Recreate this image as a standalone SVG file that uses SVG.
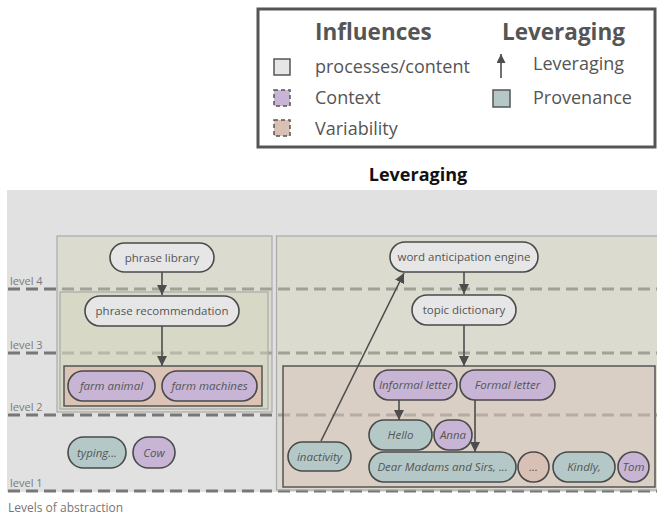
<svg xmlns="http://www.w3.org/2000/svg" width="657" height="517" viewBox="0 0 657 517">
<defs>
<marker id="ah" viewBox="0 0 10 10" refX="10" refY="5" markerWidth="10" markerHeight="10" markerUnits="userSpaceOnUse" orient="auto">
<path d="M0,0 L10,5 L0,10 z" fill="#4d4d4d"/>
</marker>
<marker id="ahs" viewBox="0 0 10 10" refX="10" refY="5" markerWidth="9" markerHeight="9" markerUnits="userSpaceOnUse" orient="auto">
<path d="M0,0 L10,5 L0,10 z" fill="#4d4d4d"/>
</marker>
</defs>
<style>
text{font-family:"Open Sans","Noto Sans","Liberation Sans",sans-serif;}
.lvl{stroke:#777;stroke-width:3;stroke-dasharray:12 6;fill:none;}
.lbl{font-size:11px;fill:#7a7a7a;}
.panel{fill:#d4d4bc;fill-opacity:0.45;stroke:#aaa;stroke-width:1.2;}
.node rect{stroke:#4a4a4a;stroke-width:1.6;}
.gray{fill:#e6e6e6;}
.ctx{fill:#c8b5d6;}
.prov{fill:#b4c9c7;}
.var{fill:#d9c0b4;}
.nt{font-size:11.5px;fill:#555;text-anchor:middle;}
.it{font-style:italic;}
.edge{stroke:#4d4d4d;stroke-width:1.6;fill:none;marker-end:url(#ah);}
.lg{font-size:18px;fill:#555;}
.lgb{font-size:22.5px;font-weight:bold;fill:#555;}
</style>
<!-- legend -->
<g id="legend">
<rect x="258" y="9" width="397" height="138" fill="#fff" stroke="#555" stroke-width="3"/>
<text class="lgb" x="315" y="40">Influences</text>
<text class="lgb" x="502" y="40">Leveraging</text>
<rect x="274" y="59" width="16" height="16" fill="#e6e6e6" stroke="#555" stroke-width="1.5"/>
<text class="lg" x="315" y="73">processes/content</text>
<rect x="274" y="90" width="16" height="16" fill="#c8b5d6" stroke="#555" stroke-width="1.5" stroke-dasharray="4 3"/>
<text class="lg" x="315" y="104">Context</text>
<rect x="274" y="120" width="16" height="16" fill="#d9c0b4" stroke="#555" stroke-width="1.5" stroke-dasharray="4 3"/>
<text class="lg" x="315" y="135">Variability</text>
<line x1="501" y1="78" x2="501" y2="54" stroke="#4d4d4d" stroke-width="1.6" marker-end="url(#ahs)"/>
<text class="lg" x="533" y="70">Leveraging</text>
<rect x="493" y="90" width="17" height="17" fill="#b4c9c7" stroke="#555" stroke-width="1.5"/>
<text class="lg" x="533" y="104">Provenance</text>
</g>
<text x="418" y="181" font-size="18" font-weight="bold" fill="#111" text-anchor="middle">Leveraging</text>
<!-- background -->
<rect x="7" y="190" width="650" height="302" fill="#e1e1e1"/>
<!-- level lines -->
<g id="levels">
<line class="lvl" x1="8" y1="289" x2="657" y2="289"/>
<line class="lvl" x1="8" y1="353" x2="657" y2="353"/>
<line class="lvl" x1="8" y1="415" x2="657" y2="415"/>
<line class="lvl" x1="8" y1="491" x2="657" y2="491"/>
<text class="lbl" x="10" y="285">level 4</text>
<text class="lbl" x="10" y="349">level 3</text>
<text class="lbl" x="10" y="411">level 2</text>
<text class="lbl" x="10" y="487">level 1</text>
</g>
<!-- panels -->
<rect class="panel" x="57" y="236" width="215" height="176"/>
<rect class="panel" x="60" y="292" width="208" height="117" fill-opacity="0.2"/>
<rect class="panel" x="276.5" y="236" width="382" height="254"/>
<rect x="64" y="366" width="198" height="40" fill="#dcc0b2" fill-opacity="0.85" stroke="#555" stroke-width="1.5"/>
<rect x="283" y="366" width="372" height="121" fill="#d8bfb2" fill-opacity="0.4" stroke="#555" stroke-width="1.5"/>
<!-- connectors -->
<g id="connectors">
<line class="edge" x1="162" y1="272" x2="162" y2="295"/>
<line class="edge" x1="162" y1="326" x2="162" y2="366"/>
<line class="edge" x1="464" y1="272" x2="464" y2="294"/>
<line class="edge" x1="464" y1="325" x2="464" y2="366"/>
<line class="edge" x1="399" y1="400" x2="399" y2="420"/>
<line class="edge" x1="475" y1="400" x2="475" y2="452"/>
<line class="edge" x1="321" y1="441" x2="404" y2="273"/>
</g>
<!-- nodes -->
<g id="n-phrase-library" class="node"><rect class="gray" x="110" y="243" width="104" height="29" rx="14.5"/><text class="nt" x="162" y="261.5">phrase library</text></g>
<g id="n-phrase-recommendation" class="node"><rect class="gray" x="85" y="296" width="154" height="30" rx="15"/><text class="nt" x="162" y="315">phrase recommendation</text></g>
<g id="n-farm-animal" class="node"><rect class="ctx" x="68" y="371" width="87" height="30" rx="15"/><text class="nt it" x="111.5" y="390">farm animal</text></g>
<g id="n-farm-machines" class="node"><rect class="ctx" x="162" y="371" width="95" height="30" rx="15"/><text class="nt it" x="209.5" y="390">farm machines</text></g>
<g id="n-typing" class="node"><rect class="prov" x="68" y="437" width="58" height="31" rx="15.5"/><text class="nt it" x="97" y="456.5">typing...</text></g>
<g id="n-cow" class="node"><rect class="ctx" x="133" y="437" width="42" height="31" rx="15.5"/><text class="nt it" x="154" y="456.5">Cow</text></g>
<g id="n-word-anticipation" class="node"><rect class="gray" x="390" y="242" width="148" height="30" rx="15"/><text class="nt" x="464" y="261">word anticipation engine</text></g>
<g id="n-topic-dictionary" class="node"><rect class="gray" x="412" y="295" width="104" height="30" rx="15"/><text class="nt" x="464" y="314">topic dictionary</text></g>
<g id="n-informal-letter" class="node"><rect class="ctx" x="374" y="370" width="83" height="30" rx="15"/><text class="nt it" x="415.5" y="389">Informal letter</text></g>
<g id="n-formal-letter" class="node"><rect class="ctx" x="460" y="370" width="95" height="30" rx="15"/><text class="nt it" x="507.5" y="389">Formal letter</text></g>
<g id="n-hello" class="node"><rect class="prov" x="369" y="420" width="63" height="30" rx="15"/><text class="nt it" x="400.5" y="439">Hello</text></g>
<g id="n-anna" class="node"><rect class="ctx" x="434" y="420" width="38" height="30" rx="15"/><text class="nt it" x="453" y="439">Anna</text></g>
<g id="n-inactivity" class="node"><rect class="prov" x="288" y="442" width="63" height="29" rx="14.5"/><text class="nt it" x="319.5" y="460.5">inactivity</text></g>
<g id="n-dear-madams" class="node"><rect class="prov" x="369" y="452" width="147" height="30" rx="15"/><text class="nt it" x="442.5" y="471">Dear Madams and Sirs, ...</text></g>
<g id="n-ellipsis" class="node"><rect class="var" x="518" y="452" width="31" height="30" rx="15"/><text class="nt it" x="533.5" y="471">...</text></g>
<g id="n-kindly" class="node"><rect class="prov" x="553" y="452" width="62" height="30" rx="15"/><text class="nt it" x="584" y="471">Kindly,</text></g>
<g id="n-tom" class="node"><rect class="ctx" x="618" y="452" width="31" height="30" rx="15"/><text class="nt it" x="633.5" y="471">Tom</text></g>
<text x="8" y="512" font-size="12" fill="#777">Levels of abstraction</text>
</svg>
